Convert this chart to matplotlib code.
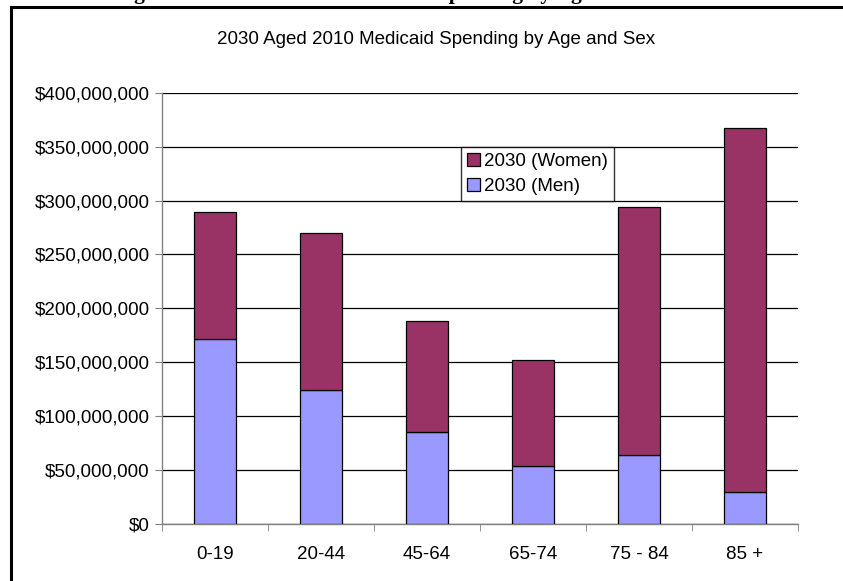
import matplotlib.pyplot as plt
import matplotlib.ticker as mticker
from matplotlib.lines import Line2D
import numpy as np

# Data
age_groups = ['0-19', '20-44', '45-64', '65-74', '75 - 84', '85 +']
men_2030 = [171.5e6, 124.5e6, 85.0e6, 54.0e6, 64.0e6, 29.5e6]
women_2030 = [118.0e6, 145.5e6, 103.0e6, 98.0e6, 230.0e6, 338.0e6]

women_color = '#993366'
men_color = '#9999FF'

plt.rcParams['font.family'] = ['Liberation Sans', 'DejaVu Sans']

W, H = 843, 581
fig = plt.figure(figsize=(W / 100, H / 100), dpi=100)

# page frame (top and left edges of the chart box)
fig.add_artist(Line2D([10.5 / W, 1.0], [1 - 6.5 / H, 1 - 6.5 / H], color='black', lw=2.2,
                      transform=fig.transFigure))
fig.add_artist(Line2D([10.5 / W, 10.5 / W], [0, 1 - 6.5 / H], color='black', lw=2.2,
                      transform=fig.transFigure))

# document caption, cut off at the top of the picture (only descenders show)
fig.text(446 / W, 1 + 1.0 / H, 'Figure 8. 2030 Increased Medicaid Spending by Age and Gender in 2030',
         ha='center', va='baseline', fontsize=15.5, fontweight='bold',
         family=['Liberation Serif', 'DejaVu Serif'])

ax = fig.add_axes([162 / W, 1 - 524 / H, (798 - 162) / W, (524 - 92.7) / H])

x = np.arange(len(age_groups))
ax.bar(x, men_2030, width=0.4, color=men_color, edgecolor='black', linewidth=0.9,
       label='2030 (Men)', zorder=3)
ax.bar(x, women_2030, width=0.4, bottom=men_2030, color=women_color, edgecolor='black',
       linewidth=0.9, label='2030 (Women)', zorder=3)

ax.set_xlim(-0.5, len(age_groups) - 0.5)
ax.set_ylim(0, 400e6)
ax.set_yticks(np.arange(0, 400e6 + 1, 50e6))
ax.yaxis.set_major_formatter(mticker.FuncFormatter(lambda v, p: '${:,.0f}'.format(v)))
ax.yaxis.grid(True, color='black', lw=0.9, zorder=0)

ax.set_xticks(x)
ax.set_xticklabels(age_groups)
ax.set_xticks(np.arange(-0.5, len(age_groups)), minor=True)
ax.tick_params(axis='x', which='major', length=0, pad=16, labelsize=13.5)
ax.tick_params(axis='x', which='minor', length=5, color='#808080')
ax.tick_params(axis='y', length=5, color='#808080', labelsize=13.5, pad=4)

for s in ['top', 'right']:
    ax.spines[s].set_visible(False)
for s in ['left', 'bottom']:
    ax.spines[s].set_color('#808080')
    ax.spines[s].set_linewidth(1.0)

fig.text(436 / W, 1 - 40 / H, '2030 Aged 2010 Medicaid Spending by Age and Sex',
         ha='center', va='center', fontsize=13.5)

handles, labels = ax.get_legend_handles_labels()
leg = fig.legend(handles[::-1], labels[::-1], loc='upper left',
                 bbox_to_anchor=(461 / W, 1 - 147 / H), borderaxespad=0,
                 frameon=True, fancybox=False, edgecolor='black', fontsize=13.5,
                 handlelength=0.7, handleheight=0.7, handletextpad=0.25,
                 borderpad=0.3, labelspacing=0.45)
leg.get_frame().set_linewidth(1.0)
leg.set_zorder(5)

fig.savefig('out.png', dpi=100)
